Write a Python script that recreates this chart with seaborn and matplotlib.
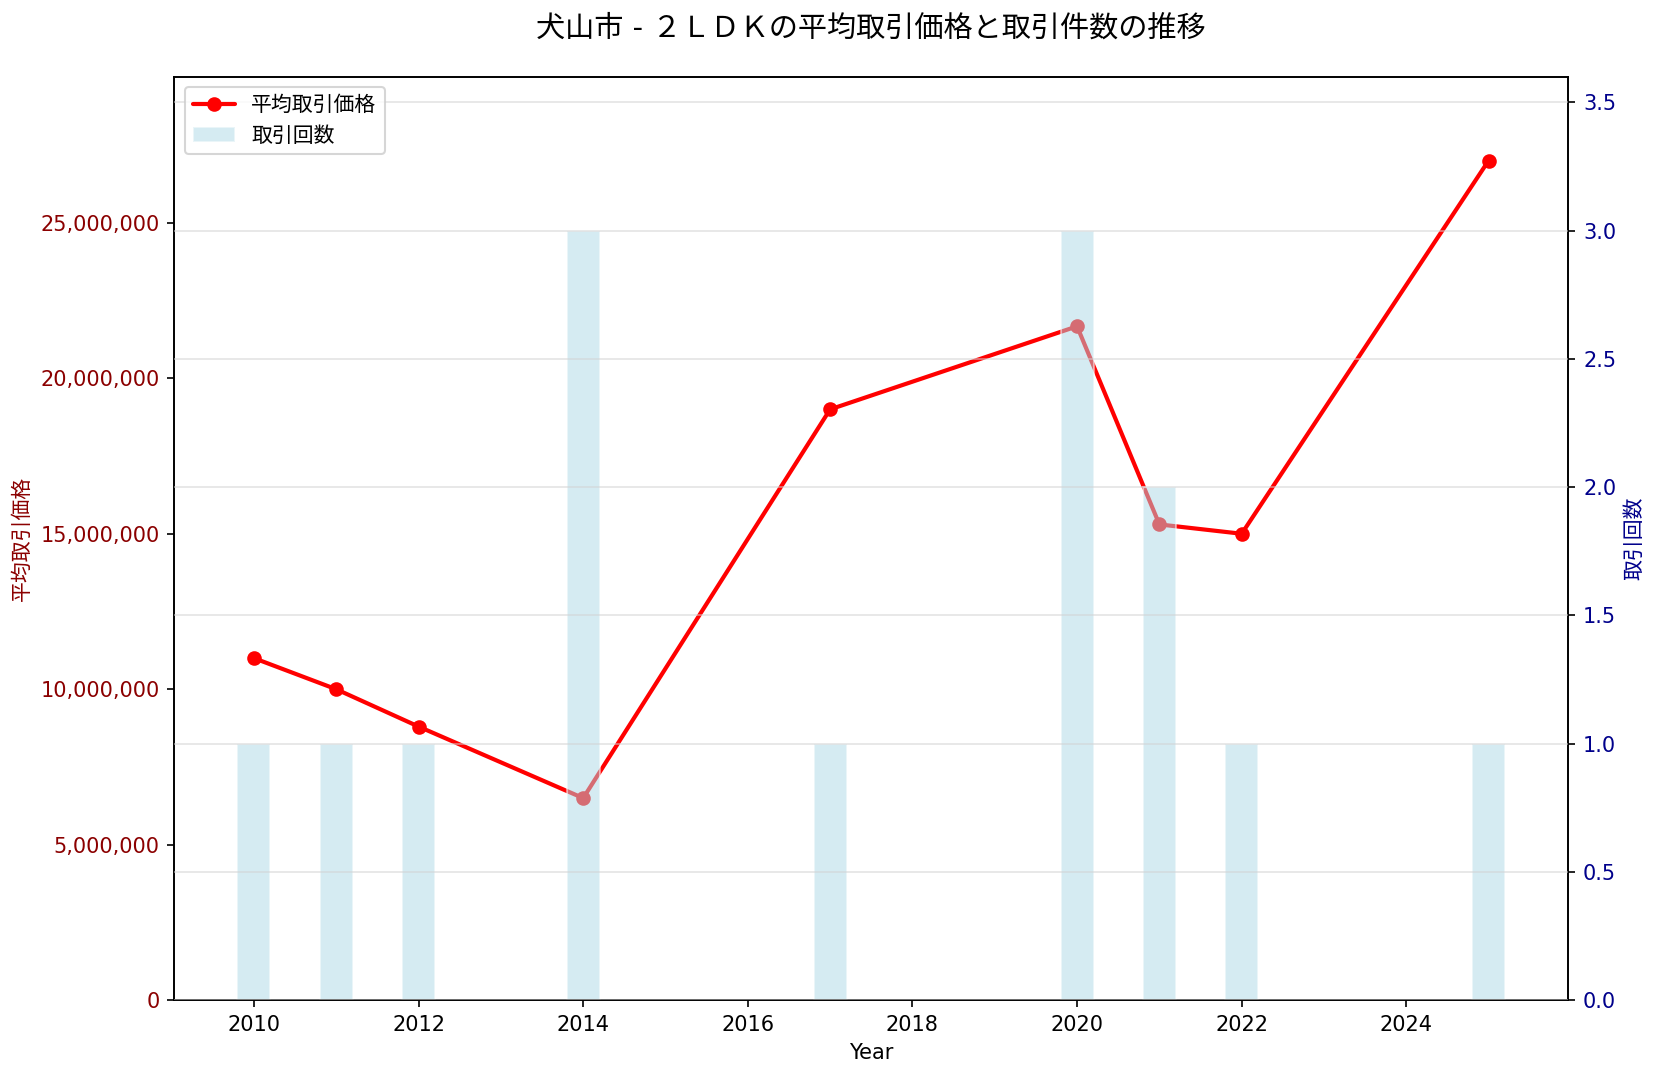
import matplotlib
matplotlib.use("Agg")
import matplotlib.pyplot as plt
import matplotlib.ticker as mticker
import seaborn as sns
import pandas as pd

years = [2010, 2011, 2012, 2014, 2017, 2020, 2021, 2022, 2025]
avg_price = [11000000, 10000000, 8800000, 6500000, 19000000, 21670000, 15300000, 15000000, 27000000]
counts = [1, 1, 1, 3, 1, 3, 2, 1, 1]

title = "犬山市 - ２ＬＤＫの平均取引価格と取引件数の推移"

sns.set_style("white")
plt.rcParams['font.family'] = ['DejaVu Sans', 'Noto Sans CJK JP']
plt.rcParams['axes.unicode_minus'] = False
plt.rcParams['text.color'] = 'black'
plt.rcParams['axes.labelcolor'] = 'black'
plt.rcParams['xtick.color'] = 'black'
plt.rcParams['ytick.color'] = 'black'

df = pd.DataFrame({"Year": years, "price": avg_price, "count": counts})

DPI = 150
fig = plt.figure(figsize=(1658 / DPI, 1079 / DPI), dpi=DPI)
ax1 = fig.add_axes([0.105, 0.073, 0.841, 0.856])
ax2 = ax1.twinx()

sns.lineplot(data=df, x="Year", y="price", ax=ax1, color="red", linewidth=2,
             marker="o", markersize=6, markeredgewidth=1, markeredgecolor="red",
             label="平均取引価格", legend=False)
sns.barplot(data=df, x="Year", y="count", ax=ax2, native_scale=True, width=0.4,
            color="lightblue", alpha=0.5, label="取引回数", legend=False, saturation=1)

for ax in (ax1, ax2):
    for s in ax.spines.values():
        s.set_color("black")
        s.set_linewidth(0.8)

ax1.set_ylim(0, max(avg_price) * 1.1)
ax2.set_ylim(0, max(counts) * 1.2)
ax1.set_xlim(2009.03, 2025.97)

ax1.yaxis.set_major_formatter(mticker.FuncFormatter(lambda v, p: f"{int(v):,}"))
ax1.tick_params(axis="y", labelcolor="darkred", color="black", labelsize=10, length=3.5, width=0.8, left=True)
ax2.tick_params(axis="y", labelcolor="darkblue", color="black", labelsize=10, length=3.5, width=0.8, right=True)
ax1.tick_params(axis="x", labelcolor="black", labelsize=10, length=3.5, width=0.8, bottom=True)
ax1.set_xticks([2010, 2012, 2014, 2016, 2018, 2020, 2022, 2024])

ax1.set_xlabel("Year", fontsize=10, color="black")
ax1.set_ylabel("平均取引価格", color="darkred", fontsize=10)
ax2.set_ylabel("取引回数", color="darkblue", fontsize=10)

ax2.grid(True, axis="y", color="lightgray", alpha=0.6, linewidth=0.8)
ax1.grid(False)
ax2.set_axisbelow(False)

h1, l1 = ax1.get_legend_handles_labels()
h2, l2 = ax2.get_legend_handles_labels()
leg = ax2.legend(h1 + h2, l1 + l2, loc="upper left", fontsize=10, frameon=True)
for t in leg.get_texts():
    t.set_color("black")

ax1.set_title(title, fontsize=14, pad=19, color="black")

fig.savefig("out.png", dpi=DPI)
